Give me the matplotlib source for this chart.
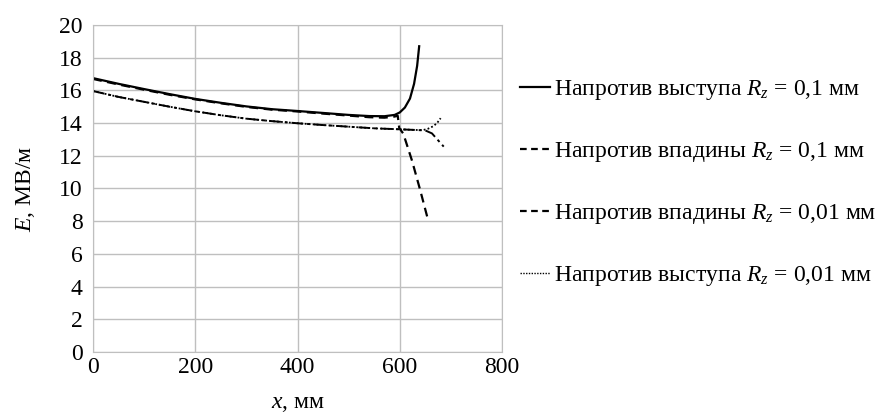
import matplotlib
matplotlib.use("Agg")
import matplotlib.pyplot as plt
from matplotlib.lines import Line2D

plt.rcParams['font.family'] = ['Liberation Serif', 'DejaVu Serif']
plt.rcParams['mathtext.fontset'] = 'custom'
plt.rcParams['mathtext.rm'] = 'Liberation Serif'
plt.rcParams['mathtext.it'] = 'Liberation Serif:italic'

# Напротив выступа Rz = 0,1 мм
x1 = [0, 50, 100, 150, 200, 250, 300, 350, 400, 450, 500, 540, 570, 590, 600, 610, 620, 628, 634, 638]
y1 = [16.75, 16.4, 16.08, 15.77, 15.48, 15.24, 15.02, 14.85, 14.74, 14.62, 14.5, 14.43, 14.42, 14.5, 14.65, 14.95, 15.5, 16.4, 17.5, 18.7]

# Напротив впадины Rz = 0,1 мм
x2 = [0, 50, 100, 150, 200, 250, 300, 350, 400, 450, 500, 540, 570, 590, 596, 599, 607, 624, 640, 656]
y2 = [16.7, 16.36, 16.04, 15.73, 15.45, 15.21, 14.99, 14.82, 14.71, 14.58, 14.46, 14.36, 14.33, 14.4, 14.45, 13.7, 13.35, 11.7, 9.9, 8.0]

# Напротив впадины Rz = 0,01 мм
x3 = [0, 50, 100, 150, 200, 250, 300, 350, 400, 450, 500, 550, 600, 630, 650, 663, 686]
y3 = [15.96, 15.6, 15.3, 15.0, 14.72, 14.48, 14.27, 14.12, 13.99, 13.88, 13.78, 13.68, 13.62, 13.58, 13.55, 13.37, 12.56]

# Напротив выступа Rz = 0,01 мм
x4 = [0, 50, 100, 150, 200, 250, 300, 350, 400, 450, 500, 550, 600, 630, 645, 655, 665, 673, 680]
y4 = [15.96, 15.6, 15.3, 15.0, 14.72, 14.48, 14.27, 14.12, 13.99, 13.88, 13.78, 13.68, 13.62, 13.58, 13.57, 13.65, 13.8, 14.0, 14.3]

labels = [r'Напротив выступа $R_z$ = 0,1 мм',
          r'Напротив впадины $R_z$ = 0,1 мм',
          r'Напротив впадины $R_z$ = 0,01 мм',
          r'Напротив выступа $R_z$ = 0,01 мм']

xticks = [0, 200, 400, 600, 800]
yticks = [0, 2, 4, 6, 8, 10, 12, 14, 16, 18, 20]

FS = 17

fig = plt.figure(figsize=(8.81, 4.13), dpi=100)
ax = fig.add_axes([0.1056, 0.1477, 0.4642, 0.7918])

ax.plot(x3, y3, color='black', lw=1.4, linestyle=(0, (6, 2, 1.5, 2)))
ax.plot(x4, y4, color='black', lw=1.3, linestyle=(0, (1, 1.2)))
ax.plot(x2, y2, color='black', lw=1.6, linestyle=(0, (4, 2.5)))
ax.plot(x1, y1, color='black', lw=1.6)

ax.set_xlim(0, 800)
ax.set_ylim(0, 20)
ax.set_xticks(xticks)
ax.set_yticks(yticks)
ax.grid(True, color='#bfbfbf', lw=1)
ax.set_axisbelow(True)
for s in ax.spines.values():
    s.set_color('#bfbfbf')
ax.tick_params(length=0, labelsize=FS)
ax.tick_params(axis='x', pad=3.5)
ax.tick_params(axis='y', pad=7.5)
ax.set_xlabel(r'$x$, мм', fontsize=FS, labelpad=11)
ax.set_ylabel(r'$E$, МВ/м', fontsize=FS, labelpad=16)

handles = [Line2D([], [], color='black', lw=1.6),
           Line2D([], [], color='black', lw=1.6, linestyle=(0, (3, 2))),
           Line2D([], [], color='black', lw=1.6, linestyle=(0, (3, 2))),
           Line2D([], [], color='black', lw=1.0, linestyle=(0, (1, 1)))]
fig.legend(handles, labels, loc='upper left', bbox_to_anchor=(0.590, 0.81),
           frameon=False, fontsize=FS, handlelength=1.27, handletextpad=0.2,
           labelspacing=1.6, borderaxespad=0, borderpad=0)

fig.savefig('out.png', dpi=100)
